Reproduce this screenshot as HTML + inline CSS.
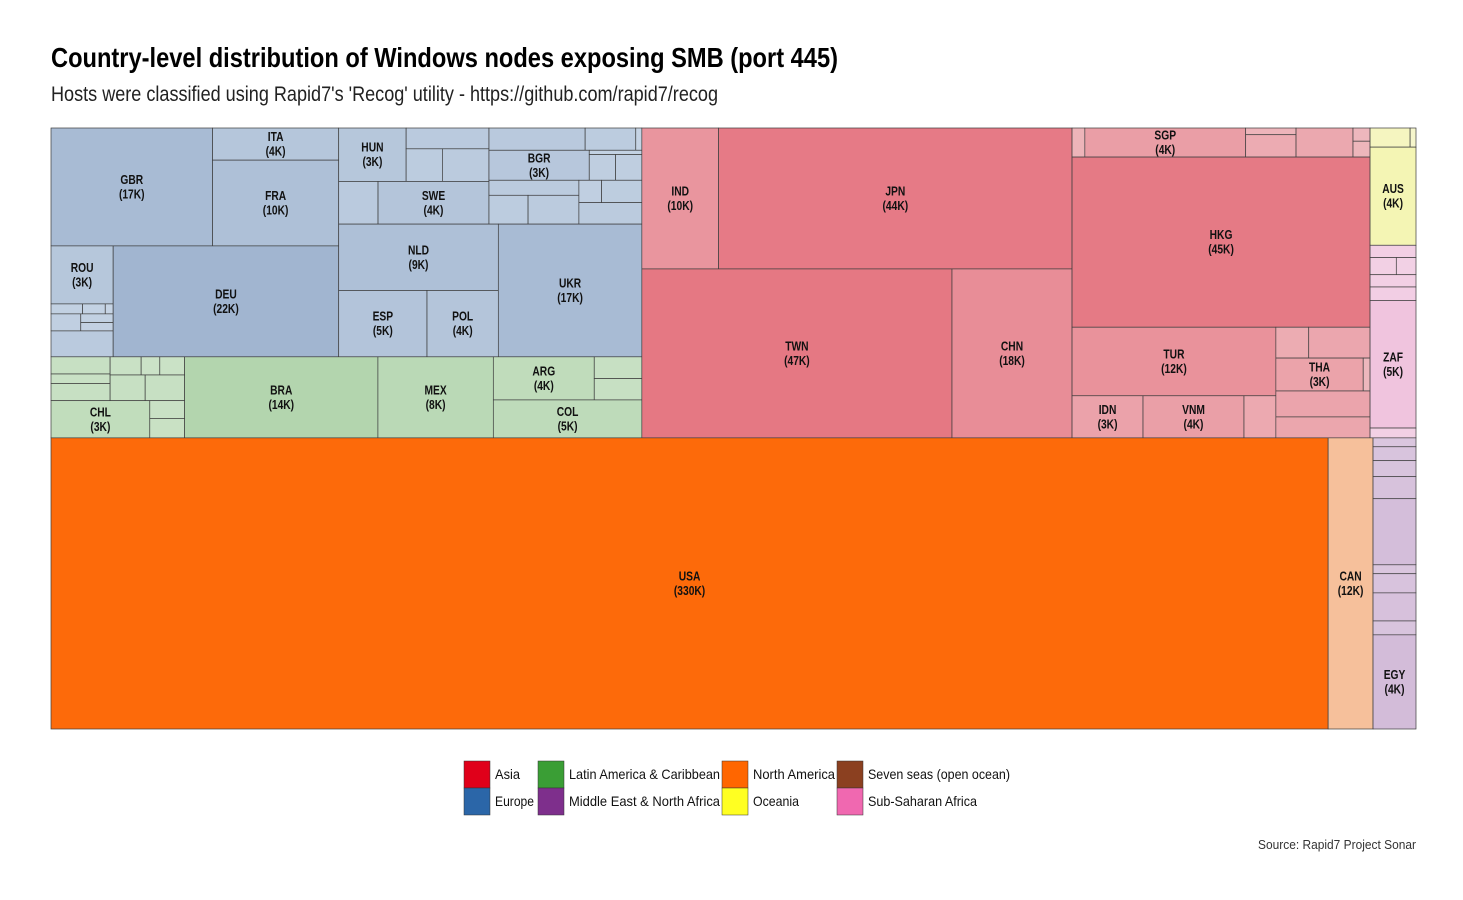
<!DOCTYPE html>
<html><head><meta charset="utf-8"><style>
body{margin:0;background:#fff;}
svg{display:block;}
.t{font-family:"Liberation Sans Narrow","Liberation Sans",sans-serif;}
</style></head><body>
<svg id="chart" width="1463" height="900" viewBox="0 0 1463 900" xmlns="http://www.w3.org/2000/svg">
<rect width="1463" height="900" fill="#fff"/>
<text class="t" x="51" y="67" font-size="28" font-weight="bold" fill="#000" textLength="787" lengthAdjust="spacingAndGlyphs">Country-level distribution of Windows nodes exposing SMB (port 445)</text>
<text class="t" x="51" y="101" font-size="21" fill="#222" textLength="667" lengthAdjust="spacingAndGlyphs">Hosts were classified using Rapid7's 'Recog' utility - https://github.com/rapid7/recog</text>
<g id="tiles"></g>
<g id="legend"></g>
<text class="t" x="1416" y="849" font-size="13" fill="#333" text-anchor="end" textLength="158" lengthAdjust="spacingAndGlyphs">Source: Rapid7 Project Sonar</text>
</svg>
<script>
// ---- data ----
const regions = ["Asia","Europe","Latin America & Caribbean","North America","Seven seas (open ocean)","Middle East & North Africa","Oceania","Sub-Saharan Africa"];
const legendColors = ["#e0001a","#2b66a8","#3a9e35","#ff6600","#8b4020","#7e2f8c","#ffff22","#f068b0"];
const legendOrder = [["Asia","Europe"],["Latin America & Caribbean","Middle East & North Africa"],["North America","Oceania"],["Seven seas (open ocean)","Sub-Saharan Africa"]];
const legendX = [464,538,722,837];
// tile colour endpoints per region: [dark, light, vmax, gamma]
const tileTone = {
  "Asia":["#e57682","#eebcc1",47,0.6],
  "Europe":["#a1b5d0","#c6d4e4",22,0.55],
  "Latin America & Caribbean":["#b2d5ad","#cfe4cb",14,0.55],
  "North America":["#fd6a0a","#f5d3ba",330,0.22],
  "Middle East & North Africa":["#d3bcd9","#ddcbe1",4,1],
  "Oceania":["#f4f5b4","#f6f6cc",4,1],
  "Sub-Saharan Africa":["#f0c4de","#f3d6e8",5,1]
};
function L(n,v,r,lab){return {n:n,v:v,r:r,lab:lab};}
function H(){return {d:"h",c:[...arguments]};}
function V(){return {d:"v",c:[...arguments]};}
const E="Europe",A="Asia",LA="Latin America & Caribbean",NA="North America",ME="Middle East & North Africa",OC="Oceania",SS="Sub-Saharan Africa";
const EUROPE = V(
  H(
    V(
      H(L("GBR",16.9,E,1),V(L("ITA",3.6,E,1),L("FRA",9.6,E,1))),
      H(
        V(L("ROU",3.2,E,1),
          H(L("e1",0.28,E,0),L("e2",0.2,E,0),L("e3",0.07,E,0)),
          H(L("e4",0.45,E,0),V(L("e5",0.25,E,0),L("e6",0.24,E,0))),
          L("e7",1.43,E,0)),
        L("DEU",22.2,E,1))
    ),
    V(
      H(
        V(
          H(L("HUN",3.2,E,1),V(L("e8",1.53,E,0),H(L("e9",1.05,E,0),L("e10",1.35,E,0)))),
          H(L("e11",1.49,E,0),L("SWE",4.2,E,1))
        ),
        V(
          H(L("e12",1.9,E,0),L("e13",1.0,E,0),L("e14",0.12,E,0)),
          H(L("BGR",2.67,E,1),V(L("e15",0.2,E,0),H(L("e16",0.6,E,0),L("e17",0.6,E,0)))),
          H(V(L("e18",1.2,E,0),H(L("e19",1.0,E,0),L("e20",1.3,E,0))),
            V(H(L("e21",0.45,E,0),L("e22",0.8,E,0)),L("e23",1.2,E,0)))
        )
      ),
      H(V(L("NLD",9.4,E,1),H(L("ESP",5.2,E,1),L("POL",4.2,E,1))),L("UKR",16.9,E,1))
    )
  )
);
const LATAM = H(
  V(
    H(V(L("l1",0.9,LA,0),L("l2",0.5,LA,0),L("l3",0.9,LA,0)),
      V(H(L("l4",0.5,LA,0),L("l5",0.3,LA,0),L("l6",0.4,LA,0)),H(L("l7",0.8,LA,0),L("l8",0.9,LA,0)))),
    H(L("CHL",3.26,LA,1),V(L("l9",0.55,LA,0),L("l10",0.6,LA,0)))
  ),
  L("BRA",13.9,LA,1),
  L("MEX",8.3,LA,1),
  V(H(L("ARG",3.86,LA,1),V(L("l11",0.92,LA,0),L("l12",0.9,LA,0))),L("COL",5.0,LA,1))
);
const ASIA = H(
  V(H(L("IND",9.6,A,1),L("JPN",44.2,A,1)),H(L("TWN",46.5,A,1),L("CHN",18.0,A,1))),
  V(
    H(L("a1",0.33,A,0),L("SGP",4.15,A,1),V(L("a2",0.3,A,0),L("a3",1.0,A,0)),L("a4",1.47,A,0),V(L("a5",0.2,A,0),L("a6",0.24,A,0))),
    L("HKG",45.0,A,1),
    H(
      V(L("TUR",12.4,A,1),H(L("IDN",2.65,A,1),L("VNM",3.77,A,1),L("a7",1.19,A,0))),
      V(H(L("a8",0.9,A,0),L("a9",1.68,A,0)),H(L("THA",2.55,A,1),L("a10",0.2,A,0)),L("a11",2.17,A,0),L("a12",1.75,A,0))
    )
  )
);
const RIGHTCOL = V(
  H(L("o1",0.68,OC,0),L("o2",0.1,OC,0)),
  L("AUS",4.0,OC,1),
  V(L("s1",0.5,SS,0),H(L("s2",0.4,SS,0),L("s3",0.3,SS,0)),L("s4",0.5,SS,0),L("s5",0.55,SS,0)),
  L("ZAF",5.2,SS,1),
  L("s6",0.4,SS,0)
);
const MENA = V(L("m1",0.34,ME,0),L("m2",0.53,ME,0),L("m3",0.61,ME,0),L("m4",0.84,ME,0),L("m5",2.52,ME,0),
  L("m6",0.34,ME,0),L("m7",0.73,ME,0),L("m8",1.07,ME,0),L("m9",0.53,ME,0),L("EGY",3.59,ME,1));
const ROOT = V(
  H(V(EUROPE,LATAM),ASIA,RIGHTCOL),
  H(L("USA",330,NA,1),L("CAN",11.6,NA,1),MENA)
);
const legendWidths = {"Asia":25,"Europe":39,"Latin America & Caribbean":151,"Middle East & North Africa":151,"North America":82,"Oceania":46,"Seven seas (open ocean)":142,"Sub-Saharan Africa":109};
// ---- layout ----
const X0=51,Y0=128,W=1365,Hh=601;
function total(n){return n.c?n.c.reduce((s,k)=>s+total(k),0):n.v;}
function hex(c){return [1,3,5].map(i=>parseInt(c.substr(i,2),16));}
function tone(n){
  const t=tileTone[n.r];const a=hex(t[0]),b=hex(t[1]);
  let f=(Math.log(t[2])-Math.log(Math.max(n.v,0.05)))/(Math.log(t[2])-Math.log(0.1));
  f=Math.min(1,Math.max(0,f));f=Math.pow(f,t[3]);
  return "rgb("+a.map((x,i)=>Math.round(x+(b[i]-x)*f)).join(",")+")";
}
const gT=document.getElementById("tiles");
const NS="http://www.w3.org/2000/svg";
const labels=[];
function lay(n,x,y,w,h){
  if(n.c){
    const s=total(n);let p=0;
    n.c.forEach(k=>{
      const f=total(k)/s;
      if(n.d==="h"){lay(k,x+p*w,y,f*w,h);}else{lay(k,x,y+p*h,w,f*h);}
      p+=f;
    });
    return;
  }
  const r=document.createElementNS(NS,"rect");
  r.setAttribute("x",x);r.setAttribute("y",y);r.setAttribute("width",w);r.setAttribute("height",h);
  r.setAttribute("fill",tone(n));r.setAttribute("stroke","#3d3d3d");r.setAttribute("stroke-width","0.7");
  
  
  gT.appendChild(r);
  if(n.lab){labels.push([n,x+w/2,y+h/2]);}
}
lay(ROOT,X0,Y0,W,Hh);
function squeeze(el,k){
  const len=el.getComputedTextLength();
  if(len>0){el.setAttribute("textLength",len*k);el.setAttribute("lengthAdjust","spacingAndGlyphs");}
}
labels.forEach(([n,cx,cy])=>{
  const t=document.createElementNS(NS,"text");
  t.setAttribute("class","t");
  t.setAttribute("text-anchor","middle");t.setAttribute("font-size","12.5");t.setAttribute("font-weight","bold");t.setAttribute("fill","#111");
  
  
  const a=document.createElementNS(NS,"tspan");a.setAttribute("x",cx);a.setAttribute("y",cy-3);a.textContent=n.n;
  const b=document.createElementNS(NS,"tspan");b.setAttribute("x",cx);b.setAttribute("y",cy+11.5);b.textContent="("+Math.round(n.v)+"K)";
  t.appendChild(a);t.appendChild(b);
  gT.appendChild(t);
  squeeze(a,0.82);squeeze(b,0.82);
});
// ---- legend ----
const gL=document.getElementById("legend");
legendOrder.forEach((col,ci)=>{
  col.forEach((name,ri)=>{
    const y=761+ri*27;
    const r=document.createElementNS(NS,"rect");
    r.setAttribute("x",legendX[ci]);r.setAttribute("y",y);r.setAttribute("width",26);r.setAttribute("height",27);
    r.setAttribute("fill",legendColors[regions.indexOf(name)]);r.setAttribute("stroke","#333");r.setAttribute("stroke-width","0.5");
    
    
    gL.appendChild(r);
    const t=document.createElementNS(NS,"text");
    t.setAttribute("class","t");t.setAttribute("x",legendX[ci]+31);t.setAttribute("y",y+18);t.setAttribute("font-size","14");t.setAttribute("fill","#111");
    t.setAttribute("textLength",legendWidths[name]);t.setAttribute("lengthAdjust","spacingAndGlyphs");
    t.textContent=name;
    
    
    gL.appendChild(t);
  });
});
</script>
</body></html>
